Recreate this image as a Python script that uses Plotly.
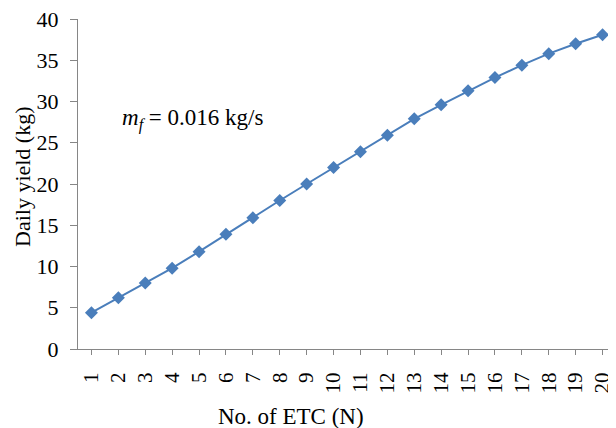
import plotly.graph_objects as go

n_etc = list(range(1, 21))
daily_yield = [4.4, 6.2, 8.0, 9.8, 11.8, 13.9, 15.9, 18.0, 20.0, 22.0,
               23.9, 25.9, 27.9, 29.6, 31.3, 32.9, 34.4, 35.8, 37.0, 38.1]
y_ticks = [0, 5, 10, 15, 20, 25, 30, 35, 40]

FONT = "Liberation Serif, Times New Roman, serif"
AX = "#868686"

fig = go.Figure(go.Scatter(
    x=n_etc, y=daily_yield, mode="lines+markers",
    line=dict(color="#4a7ebb", width=2),
    marker=dict(symbol="diamond", size=10, color="#4a7ebb"),
))

# page body has an 8px default margin, so the figure is sized 8px smaller
fig.update_layout(
    width=608, height=420,
    margin=dict(l=70, r=0, t=11, b=79),
    paper_bgcolor="white", plot_bgcolor="white",
    showlegend=False,
    font=dict(family=FONT, size=22, color="black"),
)
fig.update_xaxes(
    range=[0.5, 20.5], tickmode="array", tickvals=n_etc,
    ticktext=[str(v) for v in n_etc], tickangle=-90,
    showline=True, linecolor=AX, linewidth=1,
    ticks="outside", ticklen=5, tickcolor=AX, showgrid=False, zeroline=False,
    tickfont=dict(family=FONT, size=21), ticklabelstandoff=9,
    automargin=False, ticklabeloverflow="allow",
)
fig.update_yaxes(
    range=[0, 40], tickvals=y_ticks,
    showline=True, linecolor=AX, linewidth=1,
    ticks="outside", ticklen=7, tickcolor=AX, showgrid=False, zeroline=False,
    tickfont=dict(family=FONT, size=22), automargin=False,
    ticklabeloverflow="allow", ticklabelstandoff=7,
)
fig.add_annotation(x=-0.103, y=0.523, xref="paper", yref="paper",
                   text="Daily yield (kg)", textangle=-90, showarrow=False,
                   font=dict(family=FONT, size=22), xanchor="center", yanchor="middle")
fig.add_annotation(x=0.395, y=-0.206, xref="paper", yref="paper",
                   text="No. of ETC (N)", showarrow=False,
                   font=dict(family=FONT, size=23), xanchor="center", yanchor="middle")
fig.add_annotation(x=2.07, y=27.8, xref="x", yref="y",
                   text="<i>m<sub>f</sub></i> = 0.016 kg/s", showarrow=False,
                   font=dict(family=FONT, size=23), xanchor="left", yanchor="middle")

fig.write_html("out.html")
